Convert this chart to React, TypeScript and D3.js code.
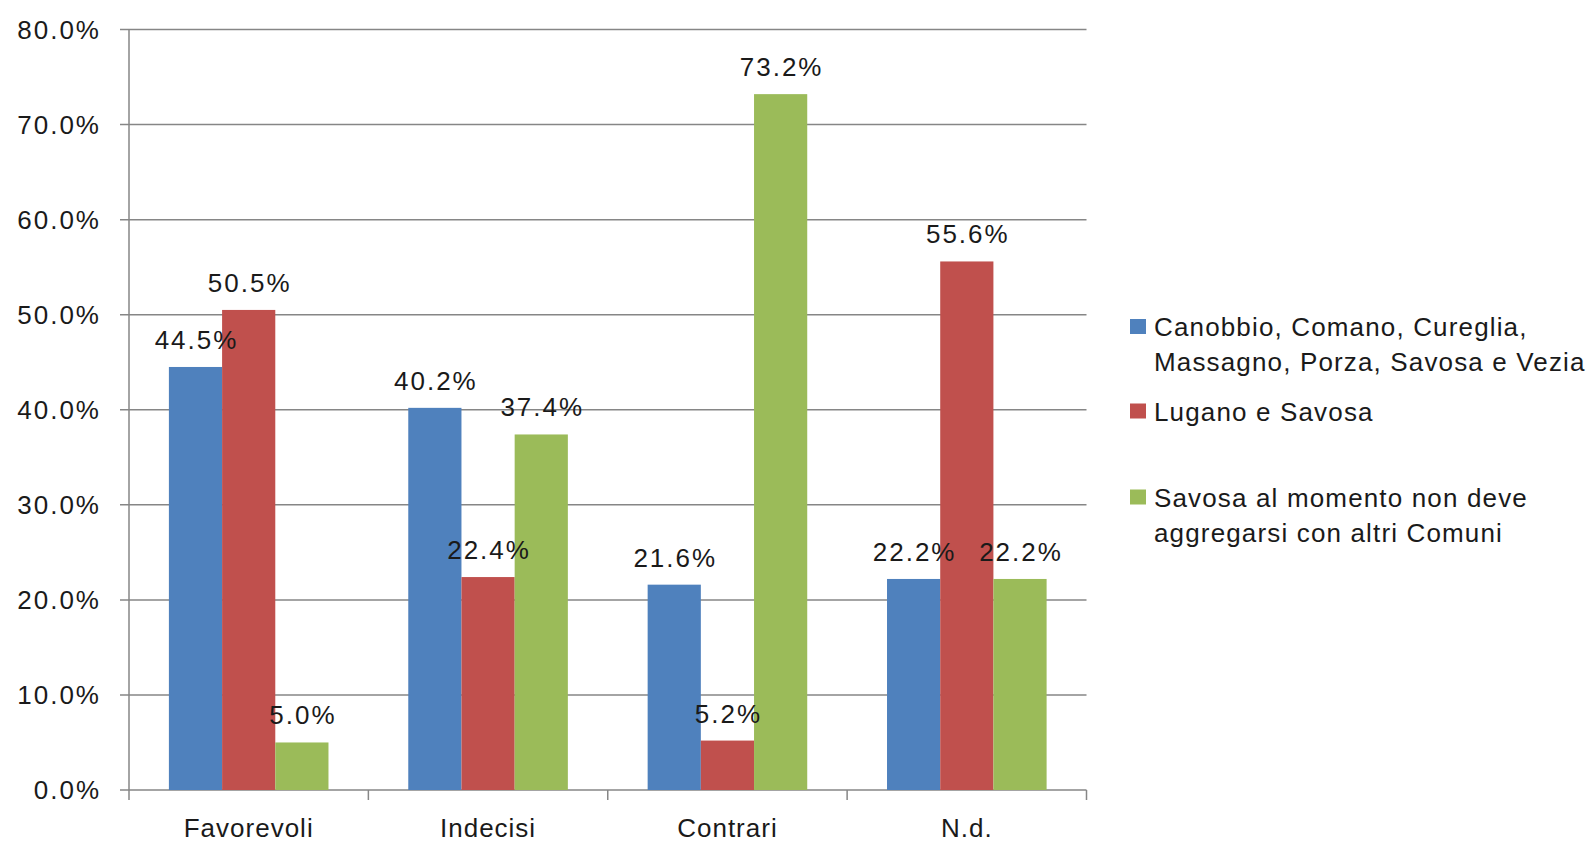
import React, { useEffect, useRef } from 'react';
import * as d3 from 'd3';

const categories = ['Favorevoli', 'Indecisi', 'Contrari', 'N.d.'];
const seriesNames = [
  'Canobbio, Comano, Cureglia, Massagno, Porza, Savosa e Vezia',
  'Lugano e Savosa',
  'Savosa al momento non deve aggregarsi con altri Comuni'
];
const legendLines = [
  ['Canobbio, Comano, Cureglia,', 'Massagno, Porza, Savosa e Vezia'],
  ['Lugano e Savosa'],
  ['Savosa al momento non deve', 'aggregarsi con altri Comuni']
];
const seriesColors = ['#4F81BD', '#C0504D', '#9BBB59'];
const canobbioValues = [44.5, 40.2, 21.6, 22.2];
const luganoValues = [50.5, 22.4, 5.2, 55.6];
const savosaValues = [5.0, 37.4, 73.2, 22.2];
const yTicks = [0, 10, 20, 30, 40, 50, 60, 70, 80];

const App = () => {
  const chartRef = useRef(null);

  useEffect(() => {
    if (!chartRef.current) return;
    d3.select(chartRef.current).selectAll('*').remove();

    const width = 1592;
    const height = 842;
    const left = 129;
    const right = 1086.5;
    const top = 29.5;
    const bottom = 790;
    const font = '"Liberation Sans", Arial, sans-serif';

    const svg = d3.select(chartRef.current)
      .append('svg')
      .attr('width', width)
      .attr('height', height)
      .style('display', 'block')
      .style('background', 'white');

    const y = d3.scaleLinear().domain([0, 80]).range([bottom, top]);
    const x0 = d3.scaleBand().domain(categories).range([left, right]);
    const bw = x0.bandwidth();
    const x1 = d3.scaleBand().domain(d3.range(3).map(String)).range([bw / 6, bw * 5 / 6]);

    // gridlines + y labels
    yTicks.forEach(t => {
      svg.append('line')
        .attr('x1', left - 9).attr('x2', right)
        .attr('y1', y(t)).attr('y2', y(t))
        .style('stroke', '#868686').style('stroke-width', 1.5);
      svg.append('text')
        .attr('x', 101).attr('y', y(t) + 9)
        .attr('text-anchor', 'end')
        .style('font-family', font).style('font-size', '26px')
        .style('letter-spacing', '2px')
        .style('fill', '#1a1a1a')
        .text(t.toFixed(1) + '%');
    });

    // y axis
    svg.append('line')
      .attr('x1', left).attr('x2', left).attr('y1', top).attr('y2', bottom)
      .style('stroke', '#868686').style('stroke-width', 1.5);

    // x ticks
    const edges = categories.map(c => x0(c)).concat([right]);
    edges.forEach(e => {
      svg.append('line')
        .attr('x1', e).attr('x2', e).attr('y1', bottom).attr('y2', bottom + 10)
        .style('stroke', '#868686').style('stroke-width', 1.5);
    });

    const series = [canobbioValues, luganoValues, savosaValues];

    series.forEach((vals, si) => {
      const g = svg.append('g');
      g.selectAll('rect')
        .data(vals)
        .enter()
        .append('rect')
        .attr('x', (d, i) => x0(categories[i]) + x1(String(si)))
        .attr('y', d => y(d))
        .attr('width', x1.bandwidth())
        .attr('height', d => bottom - y(d))
        .style('fill', seriesColors[si]);
    });

    series.forEach((vals, si) => {
      svg.append('g').selectAll('text')
        .data(vals)
        .enter()
        .append('text')
        .attr('x', (d, i) => x0(categories[i]) + x1(String(si)) + x1.bandwidth() / 2 + 1)
        .attr('y', d => y(d) - 18)
        .attr('text-anchor', 'middle')
        .style('font-family', font).style('font-size', '26px')
        .style('letter-spacing', '2px')
        .style('fill', '#1a1a1a')
        .text(d => d.toFixed(1) + '%');
    });

    // category labels
    categories.forEach(c => {
      svg.append('text')
        .attr('x', x0(c) + bw / 2).attr('y', 837)
        .attr('text-anchor', 'middle')
        .style('font-family', font).style('font-size', '26px')
        .style('letter-spacing', '1px')
        .style('fill', '#1a1a1a')
        .text(c);
    });

    // legend
    const legendY = [336, 420.5, 506.5];
    seriesNames.forEach((name, i) => {
      const g = svg.append('g').attr('class', 'legend-item');
      g.append('rect')
        .attr('x', 1130).attr('y', legendY[i] - 17)
        .attr('width', 16).attr('height', 15)
        .style('fill', seriesColors[i]);
      legendLines[i].forEach((line, j) => {
        g.append('text')
          .attr('x', 1154).attr('y', legendY[i] + j * 35)
          .style('font-family', font).style('font-size', '26px')
          .style('letter-spacing', '1.15px')
          .style('fill', '#1a1a1a')
          .text(line);
      });
    });
  }, []);

  return (
    <div
      ref={chartRef}
      style={{ position: 'fixed', left: 0, top: 0, width: 1592, height: 842, overflow: 'hidden' }}
    />
  );
};

export default App;
